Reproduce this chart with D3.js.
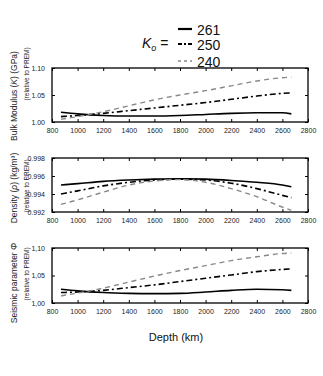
<!DOCTYPE html>
<html><head><meta charset="utf-8">
<script src="https://cdn.jsdelivr.net/npm/d3@7"></script>
<style>body{margin:0;background:#fff}svg{display:block;font-family:"Liberation Sans",Arial,sans-serif}</style>
</head><body><svg id="c" width="323" height="376"></svg>
<script>
const depth = [870, 1000, 1200, 1400, 1600, 1800, 2000, 2200, 2400, 2600, 2670];
const seriesNames = ["261", "250", "240"];
const bulk261 = [1.018, 1.015, 1.012, 1.011, 1.011, 1.012, 1.014, 1.016, 1.017, 1.017, 1.015];
const bulk250 = [1.010, 1.012, 1.016, 1.021, 1.026, 1.031, 1.036, 1.042, 1.048, 1.053, 1.054];
const bulk240 = [1.005, 1.010, 1.019, 1.030, 1.041, 1.050, 1.058, 1.067, 1.076, 1.082, 1.083];
const dens261 = [0.9950, 0.99515, 0.9954, 0.99555, 0.99565, 0.9957, 0.99565, 0.9955, 0.9953, 0.9950, 0.9948];
const dens250 = [0.9940, 0.99435, 0.9949, 0.9953, 0.99555, 0.99565, 0.99555, 0.9952, 0.9946, 0.99385, 0.9936];
const dens240 = [0.99285, 0.99335, 0.9942, 0.9950, 0.99545, 0.9956, 0.9953, 0.9946, 0.9937, 0.99255, 0.9922];
const seis261 = [1.025, 1.022, 1.019, 1.0175, 1.017, 1.0175, 1.020, 1.023, 1.025, 1.024, 1.023];
const seis250 = [1.019, 1.020, 1.023, 1.028, 1.033, 1.039, 1.045, 1.051, 1.057, 1.061, 1.062];
const seis240 = [1.013, 1.018, 1.027, 1.038, 1.049, 1.059, 1.068, 1.077, 1.084, 1.090, 1.091];
const xTicks = [800, 1000, 1200, 1400, 1600, 1800, 2000, 2200, 2400, 2600, 2800];
const bulkTicks = [1.00, 1.05, 1.10];
const bulkTickLabels = ["1.00", "1.05", "1.10"];
const densTicks = [0.992, 0.994, 0.996, 0.998];
const densTickLabels = ["0.992", "0.994", "0.996", "0.998"];
const seisTicks = [1.00, 1.05, 1.10];
const seisTickLabels = ["1,00", "1,05", "1,10"];

const styles = [
  {stroke: "#000", width: 1.6, dash: null},
  {stroke: "#000", width: 1.6, dash: "6,3,2,3"},
  {stroke: "#888", width: 1.4, dash: "5,4"}
];

const svg = d3.select("#c");
const x = d3.scaleLinear().domain([800, 2800]).range([52, 308]);

const panels = [
  {top: 68, bottom: 122, domain: [1.00, 1.10], ticks: bulkTicks, labels: bulkTickLabels, data: [bulk261, bulk250, bulk240],
   title: ["Bulk Modulus (", "K", ") (GPa)"], tCenter: 96, subCenter: 74},
  {top: 158, bottom: 212, domain: [0.992, 0.998], ticks: densTicks, labels: densTickLabels, data: [dens261, dens250, dens240],
   title: ["Density (", "ρ", ") (kg/m³)"], tCenter: 188, subCenter: 186},
  {top: 248, bottom: 303, domain: [1.00, 1.10], ticks: seisTicks, labels: seisTickLabels, data: [seis261, seis250, seis240],
   title: ["Seismic parameter ", "Φ", ""], tCenter: 283, subCenter: 274}
];

panels.forEach(p => {
  const y = d3.scaleLinear().domain(p.domain).range([p.bottom, p.top]);
  const g = svg.append("g");
  g.append("rect").attr("x", x.range()[0]).attr("y", p.top).attr("width", x.range()[1] - x.range()[0])
    .attr("height", p.bottom - p.top).attr("fill", "none").attr("stroke", "#000").attr("stroke-width", 1.3);
  const xa = d3.axisBottom(x).tickValues(xTicks).tickFormat(d3.format("d")).tickSize(3).tickPadding(3);
  const gx = g.append("g").attr("transform", `translate(0,${p.bottom})`).call(xa);
  gx.select(".domain").remove();
  gx.selectAll("line").attr("y1", -3).attr("y2", 0);
  gx.selectAll("text").attr("font-size", 7).attr("fill", "#222");
  const gt = g.append("g").attr("transform", `translate(0,${p.top})`).call(d3.axisTop(x).tickValues(xTicks).tickFormat("").tickSize(3));
  gt.select(".domain").remove();
  gt.selectAll("line").attr("y1", 0).attr("y2", 3);
  const ya = d3.axisLeft(y).tickValues(p.ticks).tickFormat((d, i) => p.labels[i]).tickSize(3).tickPadding(4);
  const gy = g.append("g").attr("transform", `translate(${x.range()[0]},0)`).call(ya);
  gy.select(".domain").remove();
  gy.selectAll("line").attr("x1", 0).attr("x2", 3);
  gy.selectAll("text").attr("font-size", 7).attr("fill", "#222");
  const gr = g.append("g").attr("transform", `translate(${x.range()[1]},0)`).call(d3.axisRight(y).tickValues(p.ticks).tickFormat("").tickSize(3));
  gr.select(".domain").remove();
  gr.selectAll("line").attr("x1", -3).attr("x2", 0);
  const line = d3.line().x((d, i) => x(depth[i])).y(d => y(d)).curve(d3.curveMonotoneX);
  p.data.forEach((vals, k) => {
    const s = styles[k];
    g.append("path").datum(vals).attr("d", line).attr("fill", "none")
      .attr("stroke", s.stroke).attr("stroke-width", s.width).attr("stroke-dasharray", s.dash);
  });
  const t = svg.append("text").attr("transform", `translate(17,${p.tCenter}) rotate(-90)`)
    .attr("text-anchor", "middle").attr("font-size", 8.5).attr("fill", "#222");
  t.append("tspan").text(p.title[0]);
  t.append("tspan").attr("font-style", "italic").text(p.title[1]);
  t.append("tspan").text(p.title[2]);
  svg.append("text").attr("transform", `translate(29,${p.subCenter}) rotate(-90)`)
    .attr("text-anchor", "middle").attr("font-size", 6.5).attr("fill", "#222").text("(relative to PREM)");
});

svg.append("text").attr("x", 176).attr("y", 341).attr("text-anchor", "middle")
  .attr("font-size", 11).attr("fill", "#111").text("Depth (km)");

// legend
const lg = svg.append("g");
const kt = lg.append("text").attr("x", 142).attr("y", 48).attr("font-size", 14).attr("fill", "#111");
kt.append("tspan").attr("font-style", "italic").text("K");
kt.append("tspan").attr("font-size", 9).attr("font-style", "italic").attr("dy", 3).text("o");
kt.append("tspan").attr("dy", -3).text(" =");
const legY = [29, 44, 61];
seriesNames.forEach((n, k) => {
  const s = styles[k];
  lg.append("line").attr("x1", 178).attr("x2", 192).attr("y1", legY[k]).attr("y2", legY[k])
    .attr("stroke", s.stroke).attr("stroke-width", k === 2 ? 1.4 : 2.2)
    .attr("stroke-dasharray", k === 0 ? null : (k === 1 ? "4,2,2,2" : "3,3"));
  lg.append("text").attr("x", 197).attr("y", legY[k] + 6).attr("font-size", 14).attr("fill", "#111").text(n);
});
</script></body></html>
